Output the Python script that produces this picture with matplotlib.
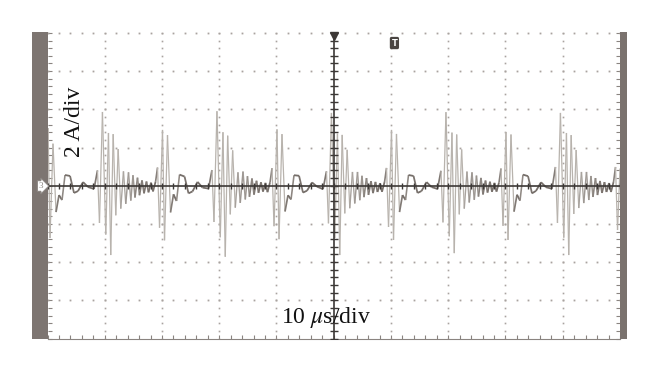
import numpy as np
import matplotlib.pyplot as plt
from matplotlib.collections import LineCollection
from matplotlib.patches import Rectangle

# oscilloscope trace vertices: time (us), current (A)
lead_t = [-50.0, -49.91, -49.56, -49.04, -48.51, -47.99, -47.46, -46.94, -46.06, -45.37,
          -44.67, -43.79, -42.92, -41.87]
lead_i = [-0.2, 3.02, -2.74, 2.20, -1.38, -0.49, -0.75, 0.56, 0.51, -0.38,
          -0.28, 0.19, -0.07, -0.17]

p1_t = [-41.27, -40.92, -40.40, -39.82, -39.35, -38.95, -38.53, -38.07, -37.66, -37.20,
        -36.73, -36.33, -35.85, -35.45, -35.07, -34.72, -34.28, -33.93, -33.49, -33.14,
        -32.71, -32.36, -31.92, -31.57, -31.13, -30.78, -30.43, -29.91, -29.56, -29.04,
        -28.51, -27.99, -27.46, -26.94, -26.06, -25.37, -24.67, -23.79, -22.92, -21.87]
p1_i = [0.80, -1.95, 3.86, -2.56, 2.76, -3.63, 2.70, -1.55, 1.92, -1.20,
        0.75, -0.95, 0.70, -0.78, 0.55, -0.62, 0.42, -0.50, 0.28, -0.40,
        0.22, -0.35, 0.16, -0.30, 0.20, 0.95, -2.20, 2.92, -2.86, 2.65,
        -1.40, -0.45, -0.80, 0.58, 0.48, -0.40, -0.30, 0.20, -0.10, -0.15]

p2_t = [-21.27, -20.92, -20.40, -19.82, -19.35, -18.95, -18.53, -18.07, -17.66, -17.20,
        -16.73, -16.33, -15.85, -15.45, -15.07, -14.72, -14.28, -13.93, -13.49, -13.14,
        -12.71, -12.36, -11.92, -11.57, -11.13, -10.78, -10.43, -9.91, -9.56, -9.04,
        -8.51, -7.99, -7.46, -6.94, -6.06, -5.37, -4.67, -3.79, -2.92, -1.87]
p2_i = [0.82, -1.90, 3.90, -2.70, 2.80, -3.72, 2.62, -1.50, 1.85, -1.15,
        0.70, -0.90, 0.74, -0.72, 0.50, -0.58, 0.38, -0.47, 0.26, -0.37,
        0.18, -0.31, 0.15, -0.34, 0.18, 0.92, -2.12, 2.95, -2.80, 2.70,
        -1.35, -0.50, -0.72, 0.55, 0.52, -0.36, -0.26, 0.17, -0.05, -0.18]

p3_t = [-1.27, -0.92, -0.40, 0.18, 0.65, 1.05, 1.47, 1.93, 2.34, 2.80,
        3.27, 3.67, 4.15, 4.55, 4.93, 5.28, 5.72, 6.07, 6.51, 6.86,
        7.29, 7.64, 8.08, 8.43, 8.87, 9.22, 9.57, 10.09, 10.44, 10.96,
        11.49, 12.01, 12.54, 13.06, 13.94, 14.63, 15.33, 16.21, 17.08, 18.13]
p3_i = [0.75, -1.97, 3.81, -2.74, 2.72, -3.63, 2.66, -1.45, 1.88, -1.18,
        0.72, -0.93, 0.72, -0.76, 0.52, -0.60, 0.40, -0.48, 0.24, -0.39,
        0.20, -0.33, 0.13, -0.32, 0.19, 0.93, -2.16, 2.92, -2.84, 2.71,
        -1.38, -0.49, -0.75, 0.56, 0.51, -0.38, -0.28, 0.19, -0.07, -0.17]

p4_t = [18.73, 19.08, 19.60, 20.18, 20.65, 21.05, 21.47, 21.93, 22.34, 22.80,
        23.27, 23.67, 24.15, 24.55, 24.93, 25.28, 25.72, 26.07, 26.51, 26.86,
        27.29, 27.64, 28.08, 28.43, 28.87, 29.22, 29.57, 30.09, 30.44, 30.96,
        31.49, 32.01, 32.54, 33.06, 33.94, 34.63, 35.33, 36.21, 37.08, 38.13]
p4_i = [0.78, -1.92, 3.85, -2.65, 2.78, -3.53, 2.68, -1.50, 1.90, -1.20,
        0.74, -0.88, 0.70, -0.74, 0.53, -0.57, 0.41, -0.46, 0.27, -0.36,
        0.21, -0.32, 0.15, -0.31, 0.17, 0.90, -2.10, 2.81, -2.84, 2.68,
        -1.36, -0.47, -0.78, 0.58, 0.50, -0.40, -0.27, 0.18, -0.08, -0.16]

p5_t = [38.73, 39.08, 39.60, 40.18, 40.65, 41.05, 41.47, 41.93, 42.34, 42.80,
        43.27, 43.67, 44.15, 44.55, 44.93, 45.28, 45.72, 46.07, 46.51, 46.86,
        47.29, 47.64, 48.08, 48.43, 48.87, 49.22, 49.57, 50.0]
p5_i = [0.98, -1.95, 3.81, -2.72, 2.76, -3.63, 2.65, -1.48, 1.87, -1.17,
        0.72, -0.91, 0.72, -0.75, 0.51, -0.59, 0.40, -0.49, 0.25, -0.38,
        0.19, -0.33, 0.14, -0.33, 0.19, 0.98, -2.32, 0.9]

t = np.array(lead_t + p1_t + p2_t + p3_t + p4_t + p5_t)
cur = np.array(lead_i + p1_i + p2_i + p3_i + p4_i + p5_i)

fig = plt.figure(figsize=(6.6, 3.72), dpi=100)
ax = fig.add_axes([0.07197, 0.09005, 0.8674, 0.8215])
ax.set_xlim(-50, 50)
ax.set_ylim(-8, 8)

# side bars of the scope screen
fig.patches.append(Rectangle((0.0489, 0.0879), 0.0233, 0.827, transform=fig.transFigure,
                             facecolor='#7d7571', edgecolor='none'))
fig.patches.append(Rectangle((0.9394, 0.0879), 0.011, 0.827, transform=fig.transFigure,
                             facecolor='#7a726e', edgecolor='none'))

# dotted graticule
gcol = '#a9a39f'
for gy in [-6, -4, -2, 2, 4, 6, 8]:
    xs = np.arange(-50, 50.01, 2)
    ax.plot(xs, np.full_like(xs, gy), ls='none', marker='s', ms=1.3, mew=0, color=gcol, clip_on=False)
for gx in [-40, -30, -20, -10, 10, 20, 30, 40]:
    ys = np.arange(-8, 8.01, 0.4)
    ax.plot(np.full_like(ys, gx), ys, ls='none', marker='s', ms=1.2, mew=0, color=gcol)

# centre cross with ticks
ccol = '#3c3836'
ax.axhline(0, color=ccol, lw=1.2, zorder=3)
ax.axvline(0, color=ccol, lw=1.2, zorder=3)
ys = np.arange(-8, 8.01, 0.4)
ax.plot(np.zeros_like(ys), ys, ls='none', marker='_', ms=6, mew=1, color=ccol, zorder=3)
xs = np.arange(-50, 50.01, 2)
ax.plot(xs, np.zeros_like(xs), ls='none', marker='|', ms=4, mew=1, color=ccol, zorder=3)

# trace: fast edges drawn lighter, like scope intensity
pts = np.column_stack([t, cur])
segs = np.stack([pts[:-1], pts[1:]], axis=1)
slope = np.abs(np.diff(cur) / np.diff(t))
frac = np.clip((slope - 1.0) / 4.0, 0, 1)[:, None]
dark = np.array([0.46, 0.43, 0.41, 1.0])
light = np.array([0.72, 0.70, 0.68, 1.0])
cols = dark * (1 - frac) + light * frac
lws = 1.3 * (1 - frac[:, 0]) + 0.9 * frac[:, 0]
ax.add_collection(LineCollection(segs, colors=cols, linewidths=lws, zorder=2))

# frame
for s in ['top', 'left', 'right']:
    ax.spines[s].set_visible(False)
ax.spines['bottom'].set_color('#8a8480')
ax.set_xticks(np.arange(-50, 51, 10))
ax.set_xticks(np.arange(-50, 51, 2), minor=True)
ax.set_yticks(np.arange(-8, 8.1, 2))
ax.set_yticks(np.arange(-8, 8.1, 0.4), minor=True)
ax.tick_params(which='both', direction='in', length=3, width=0.8, colors='#8a8480',
               top=False, bottom=True, left=True, right=True,
               labelbottom=False, labelleft=False)

# markers
ax.plot(0, 7.85, marker='v', ms=6, color=ccol, clip_on=False, zorder=4)
ax.text(10.6, 7.47, 'T', ha='center', va='center', fontsize=6, color='white',
        fontweight='bold', bbox=dict(boxstyle='round,pad=0.2', fc='#4a4542', ec='none'))
fig.text(0.062, 0.5, '3', ha='center', va='center', fontsize=6.5, color='#8a8480',
         family='Liberation Serif',
         bbox=dict(boxstyle='rarrow,pad=0.15', fc='white', ec='#8a8480', lw=0.8))

serif = ['Liberation Serif', 'DejaVu Serif']
ax.text(-45.3, 3.35, '2 A/div', rotation=90, ha='center', va='center',
        fontsize=17, family=serif, color='#111111')
ax.text(-1.3, -7.2, r'10 $\mu$s/div', ha='center', va='baseline', fontsize=17,
        family=serif, math_fontfamily='stix', color='#111111')

fig.savefig('out.png', dpi=100)
